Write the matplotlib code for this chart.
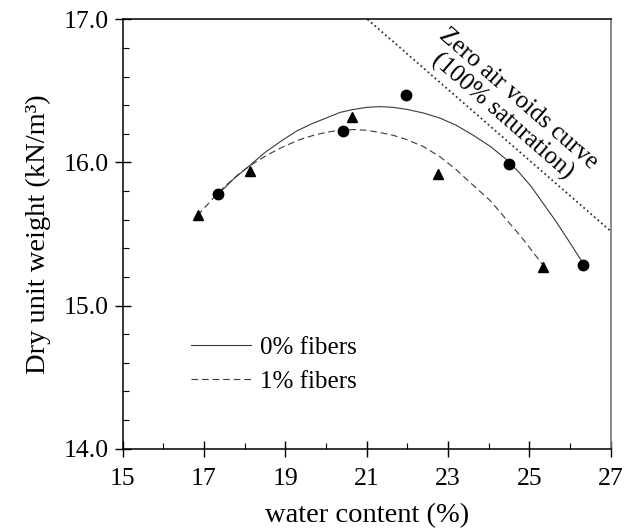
import matplotlib
matplotlib.use("Agg")
import matplotlib.pyplot as plt
from matplotlib.ticker import MultipleLocator, FixedLocator

plt.rcParams['font.family'] = ['Liberation Serif', 'DejaVu Serif']
plt.rcParams['mathtext.fontset'] = 'stix'

# measured points
w0 = [17.35, 20.41, 21.96, 24.50, 26.31]
g0 = [15.78, 16.22, 16.47, 15.99, 15.28]
w1 = [16.84, 18.13, 20.65, 22.76, 25.34]
g1 = [15.63, 15.94, 16.32, 15.92, 15.27]

# trend curves
cw0 = [17.35, 17.75, 18.13, 18.50, 18.90, 19.28, 19.65, 20.00, 20.35, 20.67, 21.00, 21.33, 21.65, 22.00, 22.40, 22.80,
       23.20, 23.62, 24.05, 24.44, 24.75, 25.05, 25.35, 25.65, 25.95, 26.31]
cg0 = [15.78, 15.89, 15.98, 16.07, 16.15, 16.22, 16.27, 16.31, 16.35, 16.37, 16.385, 16.39, 16.385, 16.37, 16.345, 16.31,
       16.26, 16.19, 16.11, 16.02, 15.93, 15.83, 15.71, 15.59, 15.46, 15.30]
cw1 = [16.84, 17.10, 17.35, 17.62, 17.90, 18.20, 18.54, 18.95, 19.36, 19.70, 20.00, 20.33, 20.67, 21.00, 21.30, 21.65,
       21.98, 22.40, 22.80, 23.20, 23.62, 24.05, 24.44, 24.80, 25.10, 25.34]
cg1 = [15.63, 15.71, 15.79, 15.86, 15.93, 15.99, 16.05, 16.11, 16.16, 16.19, 16.21, 16.225, 16.23, 16.225, 16.21, 16.19,
       16.16, 16.11, 16.04, 15.95, 15.84, 15.73, 15.60, 15.48, 15.37, 15.28]

# zero air voids line
zw = [21.02, 27.0]
zg = [17.0, 15.52]

labels = ['0% fibers', '1% fibers']
xticks = [15, 17, 19, 21, 23, 25, 27]
yticks = [14.0, 15.0, 16.0, 17.0]

fig = plt.figure(figsize=(6.35, 5.32), dpi=100)
ax = fig.add_axes([0.1932, 0.1566, 0.9617 - 0.1932, 0.9637 - 0.1566])

ax.plot(cw0, cg0, color='#3a3a3a', lw=0.8, ls='-', label=labels[0], zorder=2)
ax.plot(cw1, cg1, color='#3a3a3a', lw=0.8, dashes=(6, 3.5), label=labels[1], zorder=2)
ax.plot(zw, zg, color='#333333', lw=1.3, dashes=(1, 1.6), zorder=2)

ax.plot(w0, g0, 'o', color='black', ms=7.5, zorder=3)
ax.plot(w1, g1, '^', color='black', ms=7.5, zorder=3)

ax.text(24.53, 16.384, 'Zero air voids curve\n(100% saturation)', rotation=-41,
        rotation_mode='anchor', ha='center', va='center', multialignment='center',
        fontsize=18, linespacing=1.05)

ax.set_xlim(15, 27)
ax.set_ylim(14.0, 17.0)
ax.xaxis.set_major_locator(FixedLocator(xticks))
ax.xaxis.set_minor_locator(MultipleLocator(1))
ax.yaxis.set_major_locator(FixedLocator(yticks))
ax.yaxis.set_minor_locator(MultipleLocator(0.2))
ax.set_xticklabels([str(v) for v in xticks])
ax.set_yticklabels([f'{v:.1f}' for v in yticks])

ax.tick_params(which='major', direction='inout', length=12, width=1.0, labelsize=18.5)
ax.tick_params(axis='x', which='major', pad=8)
ax.tick_params(axis='y', which='major', pad=4)
ax.tick_params(which='minor', direction='in', length=4.5, width=0.8)
ax.tick_params(top=False, right=False, which='both')

for s in ['left', 'bottom', 'top']:
    ax.spines[s].set_linewidth(1.1)
    ax.spines[s].set_color('black')
ax.spines['right'].set_linewidth(1.2)
ax.spines['right'].set_color('#777777')

ax.set_xlabel('water content (%)', fontsize=20.5, labelpad=9)
ax.set_ylabel('Dry unit weight (kN/m³)', fontsize=20.5, labelpad=9)

leg = ax.legend(loc='upper left', bbox_to_anchor=(0.119, 0.285), frameon=False,
                fontsize=18, handlelength=2.4, handletextpad=0.35, labelspacing=0.45,
                borderaxespad=0)

fig.savefig('out.png', dpi=100)
